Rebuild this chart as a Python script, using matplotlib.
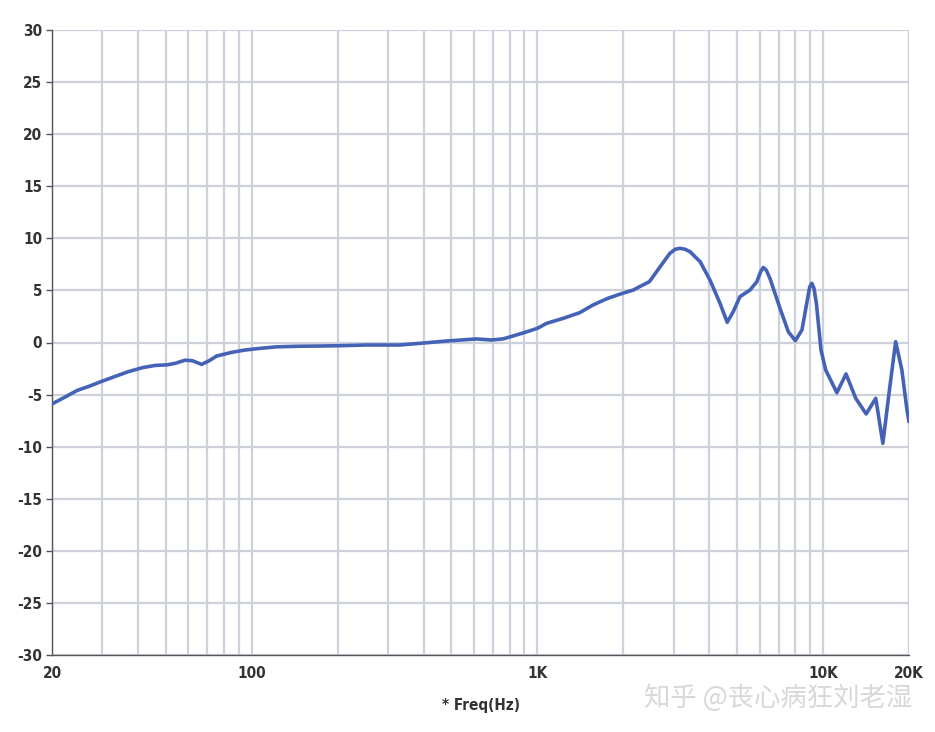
import numpy as np
import matplotlib.pyplot as plt
from matplotlib.ticker import FixedLocator, NullFormatter

plt.rcParams['axes.unicode_minus'] = False

# frequency response
freq = [20, 22, 24.5, 27, 29.4, 33.7, 37, 41.7, 46, 50.4, 54, 58.4, 62, 66.8, 71,
        75.4, 85, 94.8, 108, 122, 145, 173, 210, 252, 330, 388, 480, 612, 692,
        760, 888, 1000, 1078, 1232, 1406, 1566, 1750, 1950, 2168, 2280, 2468,
        2690, 2910, 3040, 3160, 3290, 3424, 3716, 4020, 4360, 4620, 4850, 5120,
        5552, 5868, 6050, 6180, 6330, 6520, 7070, 7560, 8000, 8440, 8770, 8980,
        9140, 9300, 9480, 9840, 10220, 11180, 12040, 13020, 14160, 15300, 16200,
        17140, 17960, 18880, 19680, 20000]
spl = [-5.9, -5.3, -4.6, -4.2, -3.8, -3.2, -2.8, -2.4, -2.2, -2.15, -2.0, -1.7,
       -1.75, -2.1, -1.75, -1.3, -0.95, -0.72, -0.55, -0.42, -0.36, -0.34,
       -0.3, -0.24, -0.24, -0.08, 0.14, 0.34, 0.24, 0.35, 0.9, 1.36, 1.84,
       2.32, 2.86, 3.6, 4.2, 4.65, 5.04, 5.36, 5.84, 7.27, 8.56, 8.95, 9.04,
       8.95, 8.71, 7.75, 6.0, 3.76, 1.94, 2.96, 4.4, 5.04, 5.84, 6.8, 7.2,
       6.95, 6.16, 3.28, 1.04, 0.17, 1.2, 3.76, 5.3, 5.68, 5.2, 3.76, -0.72,
       -2.64, -4.82, -3.02, -5.36, -6.86, -5.36, -9.68, -4.24, 0.08, -2.64,
       -6.48, -7.6]

xticks = [20, 100, 1000, 10000, 20000]
xtick_labels = ['20', '100', '1K', '10K', '20K']
yticks = list(range(-30, 31, 5))

grid_freqs = []
for dec in [10, 100, 1000, 10000]:
    for m in range(1, 10):
        f = m * dec
        if 20 <= f <= 20000:
            grid_freqs.append(f)
grid_freqs.append(20000)

fig = plt.figure(figsize=(9.35, 7.32), dpi=100)
ax = fig.add_axes([52 / 935, 77 / 732, 857 / 935, 625 / 732])

grid_col = '#cdd1dc'
for f in grid_freqs:
    ax.axvline(f, color=grid_col, lw=1.6, zorder=0)
for y in yticks:
    ax.axhline(y, color=grid_col, lw=1.6, zorder=0)

ax.plot(freq, spl, color='#4563b6', lw=2.6, solid_joinstyle='round',
        solid_capstyle='round', zorder=3)

ax.set_xscale('log')
ax.set_xlim(20, 20000)
ax.set_ylim(-30, 30)
ax.xaxis.set_major_locator(FixedLocator(xticks))
ax.set_xticklabels(xtick_labels)
ax.xaxis.set_minor_formatter(NullFormatter())
ax.tick_params(axis='x', which='both', length=0, pad=8)
ax.set_yticks(yticks)
ax.tick_params(axis='y', length=4, width=1, color='#555555', pad=3)

fam = ['DejaVu Sans']
for lab in ax.get_xticklabels() + ax.get_yticklabels():
    lab.set_family(fam)
    lab.set_fontweight('bold')
    lab.set_fontstretch('condensed')
    lab.set_fontsize(11)
    lab.set_color('#333333')

for s in ['top', 'right']:
    ax.spines[s].set_visible(False)
for s in ['left', 'bottom']:
    ax.spines[s].set_color('#555555')
    ax.spines[s].set_linewidth(1)

ax.set_xlabel('* Freq(Hz)', family=fam, fontweight='bold', fontstretch='condensed',
              fontsize=11, color='#333333', labelpad=12)

fig.text(0.976, 0.046, '知乎 @丧心病狂刘老湿', ha='right', va='center',
         fontsize=19, color='#d8d8d8',
         family=['Noto Sans CJK SC', 'DejaVu Sans'])

fig.savefig('out.png', dpi=100)
